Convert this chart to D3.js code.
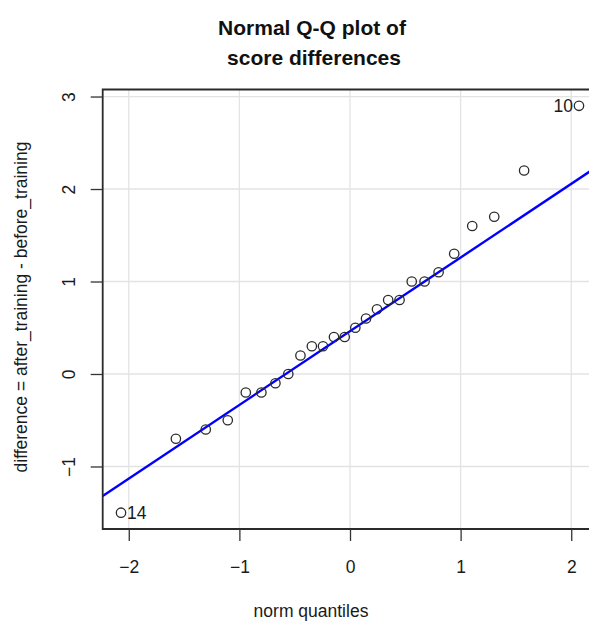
<!DOCTYPE html>
<html>
<head>
<meta charset="utf-8">
<script src="https://cdn.jsdelivr.net/npm/d3@7"></script>
<style>
  html, body { margin: 0; padding: 0; background: #fff; }
  svg { display: block; font-family: "Liberation Sans", Arial, Helvetica, sans-serif; }
</style>
</head>
<body>
<svg id="chart" width="589" height="621"></svg>
<script>
// Theoretical normal quantiles for n = 26 (ppoints), ascending
const normQuantiles = [-2.070, -1.574, -1.304, -1.105, -0.942, -0.801, -0.674, -0.558, -0.448,
  -0.345, -0.244, -0.145, -0.048, 0.048, 0.145, 0.244, 0.345, 0.448, 0.558, 0.674, 0.801,
  0.942, 1.105, 1.304, 1.574, 2.070];
// Sorted score differences (after_training - before_training)
const differences = [-1.5, -0.7, -0.6, -0.5, -0.2, -0.2, -0.1, 0.0, 0.2, 0.3, 0.3, 0.4, 0.4,
  0.5, 0.6, 0.7, 0.8, 0.8, 1.0, 1.0, 1.1, 1.3, 1.6, 1.7, 2.2, 2.9];
// Observation ids flagged as the most extreme points
const flagged = [{ rank: 0, id: "14", side: "right" }, { rank: 25, id: "10", side: "left" }];
const xTicks = [-2, -1, 0, 1, 2];
const yTicks = [-1, 0, 1, 2, 3];

const svg = d3.select("#chart");
const plotLeft = 102.7, plotRight = 597.3, plotTop = 89.5, plotBottom = 529;

// R-style 4% padding around the data range
function padded(ext) { const d = (ext[1] - ext[0]) * 0.04; return [ext[0] - d, ext[1] + d]; }
const x = d3.scaleLinear().domain(padded(d3.extent(normQuantiles))).range([plotLeft, plotRight]);
const y = d3.scaleLinear().domain(padded(d3.extent(differences))).range([plotBottom, plotTop]);

svg.append("defs").append("clipPath").attr("id", "plotclip")
  .append("rect").attr("x", plotLeft).attr("y", plotTop)
  .attr("width", plotRight - plotLeft).attr("height", plotBottom - plotTop);

// grid
const grid = svg.append("g").attr("stroke", "#e3e3e3").attr("stroke-width", 1.3);
grid.selectAll(".gx").data(xTicks).join("line")
  .attr("x1", d => x(d)).attr("x2", d => x(d)).attr("y1", plotTop).attr("y2", plotBottom);
grid.selectAll(".gy").data(yTicks).join("line")
  .attr("x1", plotLeft).attr("x2", plotRight).attr("y1", d => y(d)).attr("y2", d => y(d));

// reference line through the quartiles
const q1 = d3.quantile(differences, 0.25), q3 = d3.quantile(differences, 0.75);
const z = 0.6744898;
const slope = (q3 - q1) / (2 * z);
const intercept = q1 + slope * z;
const xd = x.domain();
svg.append("line").attr("clip-path", "url(#plotclip)")
  .attr("x1", x(xd[0])).attr("y1", y(intercept + slope * xd[0]))
  .attr("x2", x(xd[1])).attr("y2", y(intercept + slope * xd[1]))
  .attr("stroke", "#0000ff").attr("stroke-width", 2.4);

// points
svg.append("g").selectAll("circle").data(differences).join("circle")
  .attr("cx", (d, i) => x(normQuantiles[i])).attr("cy", d => y(d)).attr("r", 4.7)
  .attr("fill", "none").attr("stroke", "#2a2a2a").attr("stroke-width", 1.3);

// point labels
svg.append("g").selectAll("text").data(flagged).join("text")
  .attr("x", d => x(normQuantiles[d.rank]) + (d.side === "left" ? -6 : 6))
  .attr("y", d => y(differences[d.rank]))
  .attr("dy", "0.35em")
  .attr("text-anchor", d => d.side === "left" ? "end" : "start")
  .attr("font-size", 17.5).attr("fill", "#1a1a1a")
  .text(d => d.id);

// box
svg.append("path")
  .attr("d", `M${plotRight},${plotTop}H${plotLeft}V${plotBottom}H${plotRight}`)
  .attr("fill", "none").attr("stroke", "#2a2a2a").attr("stroke-width", 1.8);

// axes
const xAxis = svg.append("g").attr("transform", `translate(0,${plotBottom})`)
  .call(d3.axisBottom(x).tickValues(xTicks).tickSize(12).tickPadding(0).tickFormat(d3.format("d")));
xAxis.select(".domain").remove();
xAxis.selectAll("line").attr("stroke", "#333").attr("stroke-width", 1.3);
xAxis.selectAll("text").attr("y", 44).attr("dy", 0).attr("font-size", 17.5).attr("fill", "#1a1a1a")
  .attr("font-family", "Liberation Sans, Arial, sans-serif");

const yAxis = svg.append("g").attr("transform", `translate(${plotLeft},0)`)
  .call(d3.axisLeft(y).tickValues(yTicks).tickSize(12).tickFormat(d3.format("d")));
yAxis.select(".domain").remove();
yAxis.selectAll("line").attr("stroke", "#333").attr("stroke-width", 1.3);
yAxis.selectAll("text")
  .attr("x", 0).attr("dy", 0).attr("text-anchor", "middle")
  .attr("transform", "translate(-27.7,0) rotate(-90)")
  .attr("font-size", 17.5).attr("fill", "#1a1a1a")
  .attr("font-family", "Liberation Sans, Arial, sans-serif");

// titles
const title = svg.append("text").attr("text-anchor", "middle").attr("font-weight", "bold")
  .attr("font-size", 21).attr("fill", "#111");
title.append("tspan").attr("x", 312).attr("y", 35).text("Normal Q-Q plot of");
title.append("tspan").attr("x", 314).attr("y", 65).text("score differences");

svg.append("text").attr("x", 311).attr("y", 617).attr("text-anchor", "middle")
  .attr("font-size", 17.5).attr("fill", "#1a1a1a").text("norm quantiles");

svg.append("text").attr("transform", "translate(27,307) rotate(-90)").attr("text-anchor", "middle")
  .attr("font-size", 17.5).attr("fill", "#1a1a1a").text("difference = after_training - before_training");
</script>
</body>
</html>
